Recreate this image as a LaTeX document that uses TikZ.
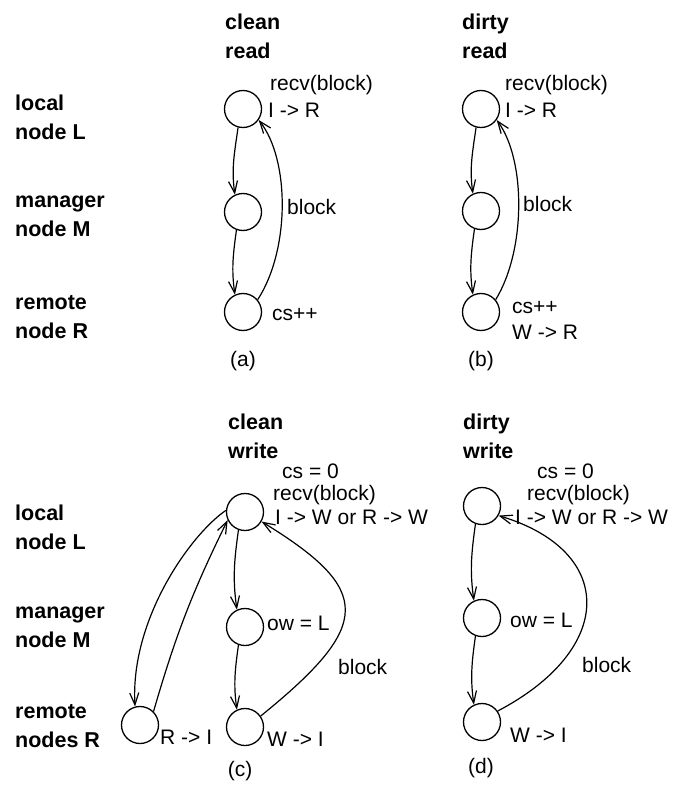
\documentclass[tikz,border=0pt]{standalone}
\usepackage{fontspec}
\setmainfont{Liberation Sans}
\usetikzlibrary{arrows.meta}

\tikzset{
  stcirc/.style={draw, circle, minimum size=37pt, inner sep=0pt, line width=1.3pt},
  flow/.style={line width=1.2pt, -{Straight Barb[length=12pt,width=9pt]}},
  lbl/.style={anchor=west, inner sep=0pt},
  hdr/.style={anchor=west, inner sep=0pt, align=left, font=\fontsize{21.5}{29}\selectfont\bfseries},
  tag/.style={inner sep=0pt}
}

\begin{document}
\begin{tikzpicture}[x=1pt, y=-1pt, every node/.style={font=\fontsize{21}{25}\selectfont}]

  \useasboundingbox (0,0) rectangle (677,786);

  % row names
  \node[hdr] (rowLa) at (15,117) {local\\node L};
  \node[hdr] (rowMa) at (15,216) {manager\\node M};
  \node[hdr] (rowRa) at (15,317) {remote\\node R};
  \node[hdr] (rowLc) at (15,527) {local\\node L};
  \node[hdr] (rowMc) at (15,627) {manager\\node M};
  \node[hdr] (rowRc) at (15,726) {remote\\nodes R};

  % (a) clean read
  \node[hdr] (hdA) at (225,36) {clean\\read};
  \node[stcirc] (La) at (243,109) {};
  \node[stcirc] (Ma) at (243,212) {};
  \node[stcirc] (Ra) at (243,312) {};
  \node[lbl] (recvA) at (270,85) {recv(block)};
  \node[lbl] (trA) at (268,110) {I -> R};
  \node[lbl] (blkA) at (287,207) {block};
  \node[lbl] (csA) at (272,315) {cs++};
  \node[tag] (capA) at (243,361) {(a)};

  \draw[flow] (La.255) to[out=262, in=98] (Ma.115);
  \draw[flow] (Ma.250) to[out=262, in=98] (Ra.115);
  \draw[flow] (Ra.40) .. controls (290,250) and (290,160) .. (La.-35);

  % (b) dirty read
  \node[hdr] (hdB) at (462,36) {dirty\\read};
  \node[stcirc] (Lb) at (481,109) {};
  \node[stcirc] (Mb) at (481,211) {};
  \node[stcirc] (Rb) at (481,312) {};
  \node[lbl] (recvB) at (505,85) {recv(block)};
  \node[lbl] (trB) at (505,110) {I -> R};
  \node[lbl] (blkB) at (523,204) {block};
  \node[lbl] (csB) at (512,308) {cs++};
  \node[lbl] (wrB) at (512,332) {W -> R};
  \node[tag] (capB) at (481,361) {(b)};

  \draw[flow] (Lb.255) to[out=262, in=98] (Mb.115);
  \draw[flow] (Mb.250) to[out=262, in=98] (Rb.115);
  \draw[flow] (Rb.40) .. controls (526,250) and (526,160) .. (Lb.-35);

  % (c) clean write
  \node[hdr] (hdC) at (228,436) {clean\\write};
  \node[stcirc] (Lc) at (245,512) {};
  \node[stcirc] (Mc) at (245,627) {};
  \node[stcirc] (Rc) at (245,727) {};
  \node[stcirc] (Sc) at (140,725) {};
  \node[lbl] (csC) at (282,471) {cs = 0};
  \node[lbl] (recvC) at (273,495) {recv(block)};
  \node[lbl] (trC) at (275,517) {I -> W or R -> W};
  \node[lbl] (owC) at (267,623) {ow = L};
  \node[lbl] (blkC) at (338,667) {block};
  \node[lbl] (riC) at (160,737) {R -> I};
  \node[lbl] (wiC) at (267,739) {W -> I};
  \node[tag] (capC) at (240,771) {(c)};

  \draw[flow] (Lc.175) .. controls (190,535) and (130,620) .. (Sc.105);
  \draw[flow] (Sc.45) to[bend left=5] (Lc.205);
  \draw[flow] (Lc.250) to[out=262, in=98] (Mc.115);
  \draw[flow] (Mc.250) to[out=262, in=98] (Rc.115);
  \draw[flow] (Rc.35) .. controls (373,625) and (373,590) .. (Lc.-30);

  % (d) dirty write
  \node[hdr] (hdD) at (463,436) {dirty\\write};
  \node[stcirc] (Ld) at (482,506) {};
  \node[stcirc] (Md) at (482,618) {};
  \node[stcirc] (Rd) at (482,722) {};
  \node[lbl] (csD) at (537,471) {cs = 0};
  \node[lbl] (recvD) at (527,495) {recv(block)};
  \node[lbl] (trD) at (515,517) {I -> W or R -> W};
  \node[lbl] (owD) at (510,620) {ow = L};
  \node[lbl] (blkD) at (582,665) {block};
  \node[lbl] (wiD) at (510,735) {W -> I};
  \node[tag] (capD) at (481,768) {(d)};

  \draw[flow] (Ld.250) to[out=262, in=98] (Md.115);
  \draw[flow] (Md.250) to[out=262, in=98] (Rd.115);
  \draw[flow] (Rd.35) .. controls (616,649) and (616,551) .. (Ld.-30);

\end{tikzpicture}
\end{document}
